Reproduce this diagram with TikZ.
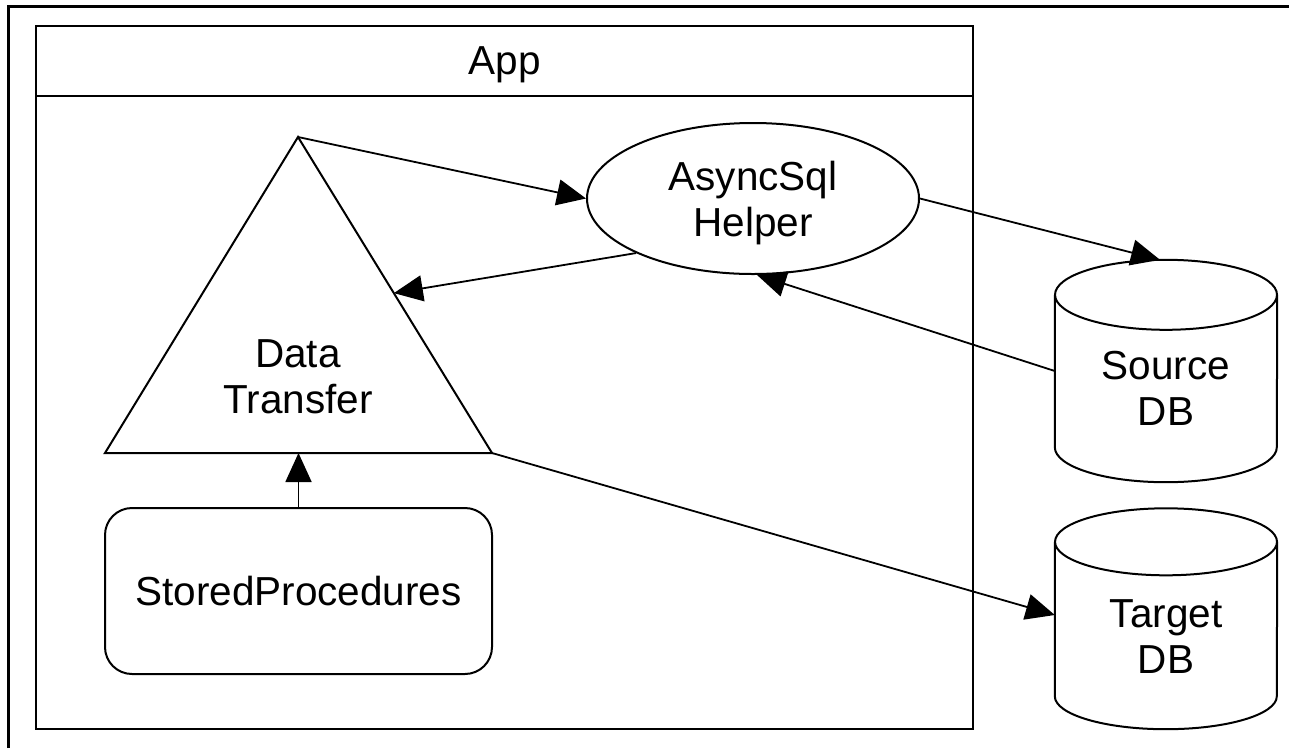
\documentclass[tikz,border=0pt]{standalone}
\usepackage{fontspec}
\setmainfont{Liberation Sans}
\usetikzlibrary{arrows.meta,shapes.geometric,calc}
\begin{document}
\begin{tikzpicture}[x=1pt,y=-1pt,
  shapeline/.style={line width=2pt},
  conn/.style={line width=1.8pt,-{Triangle[length=29pt,width=26pt]}},
  lbl/.style={font=\fontsize{40.5}{46}\selectfont, align=center, inner sep=0pt, text depth=0pt},
]
\useasboundingbox (0,0) rectangle (1289,748);
% outer frame (only top and left edges visible)
\draw[line width=3pt] (8,748) -- (8,6) -- (1289,6);
% App container
\draw[line width=2.5pt] (36,26) rectangle (973,729);
\draw[line width=2pt] (36,96) -- (973,96);
\node[lbl] (app) at (504.5,61) {App};

% Data Transfer triangle
\coordinate (tA) at (298,137);
\coordinate (tL) at (105,453);
\coordinate (tR) at (492,453);
\draw[shapeline] (tA) -- (tR) -- (tL) -- cycle;
\node[lbl] (dt) at (298,377) {Data\\Transfer};

% Stored procedures
\node[lbl, draw, shapeline, rounded corners=27pt, minimum width=387pt, minimum height=166pt] (sp) at (298.5,591) {StoredProcedures};

% AsyncSql Helper
\node[lbl, ellipse, draw, shapeline, minimum width=332pt, minimum height=151pt] (ah) at (753,198.5) {AsyncSql\\Helper};

% Source DB cylinder
\node[minimum width=222pt, minimum height=152pt, inner sep=0pt] (src) at (1166,371) {};
\draw[shapeline] (src.north west) -- (src.south west) arc[start angle=180, end angle=360, x radius=111pt, y radius=35pt] -- (src.north east);
\draw[shapeline] (src.north) ellipse[x radius=111pt, y radius=35pt];
\node[lbl] (srct) at (1166,388) {Source\\DB};

% Target DB cylinder
\node[minimum width=222pt, minimum height=154pt, inner sep=0pt] (tgt) at (1166,619) {};
\draw[shapeline] (tgt.north west) -- (tgt.south west) arc[start angle=180, end angle=360, x radius=111pt, y radius=33pt] -- (tgt.north east);
\draw[shapeline] (tgt.north) ellipse[x radius=111pt, y radius=33.5pt];
\node[lbl] (tgtt) at (1166,636.5) {Target\\DB};

% connectors
\coordinate (srctop) at ($(src.north)+(-6,-35)$);
\coordinate (tin) at ($(tA)!0.494!(tR)$);
\coordinate (tbase) at ($(tL)!0.5!(tR)$);
\coordinate (tgtin) at ($(tgt.west)+(0,-4)$);
\draw[conn] (tA) -- (ah.west);
\draw[conn] (ah.205) -- (tin);
\draw[conn] (ah.east) -- (srctop);
\draw[conn] (src.west) -- (ah.273);
\draw[conn] (tR) -- (tgtin);
\draw[conn] (sp.north) -- (tbase);
\end{tikzpicture}
\end{document}
